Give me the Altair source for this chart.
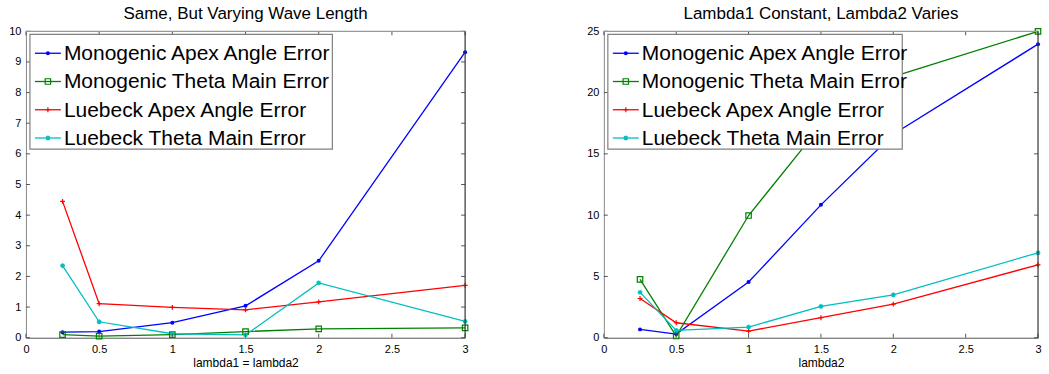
import altair as alt
import pandas as pd

FONT = "Liberation Sans"

x_vals = [0.25, 0.5, 1, 1.5, 2, 3]

# Left panel: lambda1 = lambda2
left_titles = ["Monogenic  Apex Angle Error", "Monogenic Theta Main Error",
               "Luebeck Apex Angle Error", "Luebeck Theta Main Error"]
left_mono_apex = [0.18, 0.20, 0.49, 1.04, 2.51, 9.32]
left_mono_theta = [0.10, 0.05, 0.10, 0.20, 0.29, 0.32]
left_lue_apex = [4.45, 1.11, 0.99, 0.91, 1.17, 1.71]
left_lue_theta = [2.35, 0.52, 0.13, 0.09, 1.79, 0.53]

# Right panel: lambda1 constant, lambda2 varies
right_titles = ["Monogenic Apex Angle Error", "Monogenic Theta Main Error",
                "Luebeck Apex Angle Error", "Luebeck Theta Main  Error"]
right_mono_apex = [0.68, 0.30, 4.54, 10.84, 16.6, 23.95]
right_mono_theta = [4.76, 0.14, 9.97, 17.3, 21.3, 25.0]
right_lue_apex = [3.20, 1.22, 0.54, 1.63, 2.74, 5.95]
right_lue_theta = [3.70, 0.60, 0.87, 2.55, 3.50, 6.93]

colors = ["#0000ff", "#008000", "#ff0000", "#00bfbf"]

x_ticks = [0, 0.5, 1, 1.5, 2, 2.5, 3]
left_y_ticks = [0, 1, 2, 3, 4, 5, 6, 7, 8, 9, 10]
right_y_ticks = [0, 5, 10, 15, 20, 25]

PLUS = "M-1,0L1,0M0,-1L0,1"
STAR = "M-1,0L1,0M0,-1L0,1M-0.7,-0.7L0.7,0.7M-0.7,0.7L0.7,-0.7"
marker_specs = [
    dict(shape="circle", filled=True, size=16),
    dict(shape="square", filled=False, size=30),
    dict(shape=PLUS, filled=False, size=24),
    dict(shape=STAR, filled=False, size=24),
]


def panel(title, xtitle, names, series, ymax, yticks, W, H, box_w):
    rows = []
    for name, vals in zip(names, series):
        for xv, yv in zip(x_vals, vals):
            rows.append({"x": xv, "y": yv, "series": name})
    df = pd.DataFrame(rows)

    xs = alt.Scale(domain=[0, 3], nice=False, zero=False)
    ys = alt.Scale(domain=[0, ymax], nice=False)
    xaxis = alt.Axis(values=x_ticks, format="~g", tickSize=0, grid=False,
                     labelPadding=6, labelFontSize=11, labelFont=FONT,
                     labelColor="black", titleFont=FONT, titleFontSize=12,
                     titleFontWeight="normal", titleColor="black",
                     titlePadding=3, domainColor="#555555", labelFlush=False,
                     labelOverlap=False)
    yaxis = alt.Axis(values=yticks, tickSize=0, grid=False, labelPadding=5,
                     labelFontSize=11, labelFont=FONT, labelColor="black",
                     domainColor="#888888", labelFlush=False, labelOverlap=False)
    X = alt.X("x:Q", scale=xs, title=xtitle, axis=xaxis)
    Y = alt.Y("y:Q", scale=ys, title=None, axis=yaxis)

    base = alt.Chart(df)
    layers = [
        base.mark_line(strokeWidth=1.3).encode(
            x=X, y=Y,
            color=alt.Color("series:N", scale=alt.Scale(domain=names, range=colors), legend=None),
            detail="series:N")
    ]
    for name, col, ms in zip(names, colors, marker_specs):
        layers.append(
            base.transform_filter(alt.datum.series == name).mark_point(
                shape=ms["shape"], filled=ms["filled"], size=ms["size"],
                color=col, strokeWidth=1.2, opacity=1).encode(x=X, y=Y))

    # inward ticks (MATLAB style) on all four sides
    yt = alt.Chart(pd.DataFrame({"t": yticks}))
    xt = alt.Chart(pd.DataFrame({"t": x_ticks}))
    tick_col = "#555555"
    TY = alt.Y("t:Q", scale=ys, title=None, axis=yaxis)
    TX = alt.X("t:Q", scale=xs, title=xtitle, axis=xaxis)
    layers += [
        yt.mark_rule(color=tick_col).encode(y=TY, x=alt.value(0), x2=alt.value(4)),
        yt.mark_rule(color=tick_col).encode(y=TY, x=alt.value(W - 4), x2=alt.value(W)),
        xt.mark_rule(color=tick_col).encode(x=TX, y=alt.value(H - 4), y2=alt.value(H)),
        xt.mark_rule(color=tick_col).encode(x=TX, y=alt.value(0), y2=alt.value(4)),
    ]
    # frame top and right
    one = alt.Chart(pd.DataFrame({"a": [0]}))
    layers += [
        one.mark_rule(color="#999999", strokeWidth=1.2).encode(x=alt.value(0), x2=alt.value(W), y=alt.value(0)),
        one.mark_rule(color="#333333", strokeWidth=1.2).encode(x=alt.value(W), y=alt.value(0), y2=alt.value(H)),
    ]

    # legend box
    layers.append(
        one.mark_rect(fill="white", stroke="#808080", strokeWidth=1.2).encode(
            x=alt.value(4), x2=alt.value(4 + box_w), y=alt.value(3), y2=alt.value(118)))
    for i, (name, col, ms) in enumerate(zip(names, colors, marker_specs)):
        yy = 22 + i * 28.3
        lone = alt.Chart(pd.DataFrame({"label": [name]}))
        layers.append(lone.mark_rule(color=col, strokeWidth=1.3).encode(
            x=alt.value(9), x2=alt.value(35), y=alt.value(yy)))
        layers.append(lone.mark_point(shape=ms["shape"], filled=ms["filled"], size=ms["size"],
                                      color=col, strokeWidth=1.2, opacity=1).encode(
            x=alt.value(22), y=alt.value(yy)))
        layers.append(lone.mark_text(align="left", baseline="middle", font=FONT, fontSize=21,
                                     color="black").encode(
            x=alt.value(38), y=alt.value(yy + 1), text="label:N"))

    return alt.layer(*layers).resolve_scale(color="independent").properties(
        width=W, height=H,
        title=alt.TitleParams(title, font=FONT, fontSize=17, fontWeight="normal",
                              color="black", offset=2, anchor="middle"))


left = panel("Same, But Varying Wave Length", "lambda1 = lambda2", left_titles,
             [left_mono_apex, left_mono_theta, left_lue_apex, left_lue_theta],
             10, left_y_ticks, 440, 307, 303)
right = panel("Lambda1 Constant, Lambda2 Varies", "lambda2", right_titles,
              [right_mono_apex, right_mono_theta, right_lue_apex, right_lue_theta],
              25, right_y_ticks, 435, 307, 295)

chart = alt.hconcat(left, right, spacing=115).resolve_scale(color="independent").properties(
    padding={"left": 8, "top": 5, "right": 5, "bottom": 5},
    background="white"
).configure_view(stroke=None)

chart.save("out.html", embed_options={"renderer": "svg", "actions": False})
